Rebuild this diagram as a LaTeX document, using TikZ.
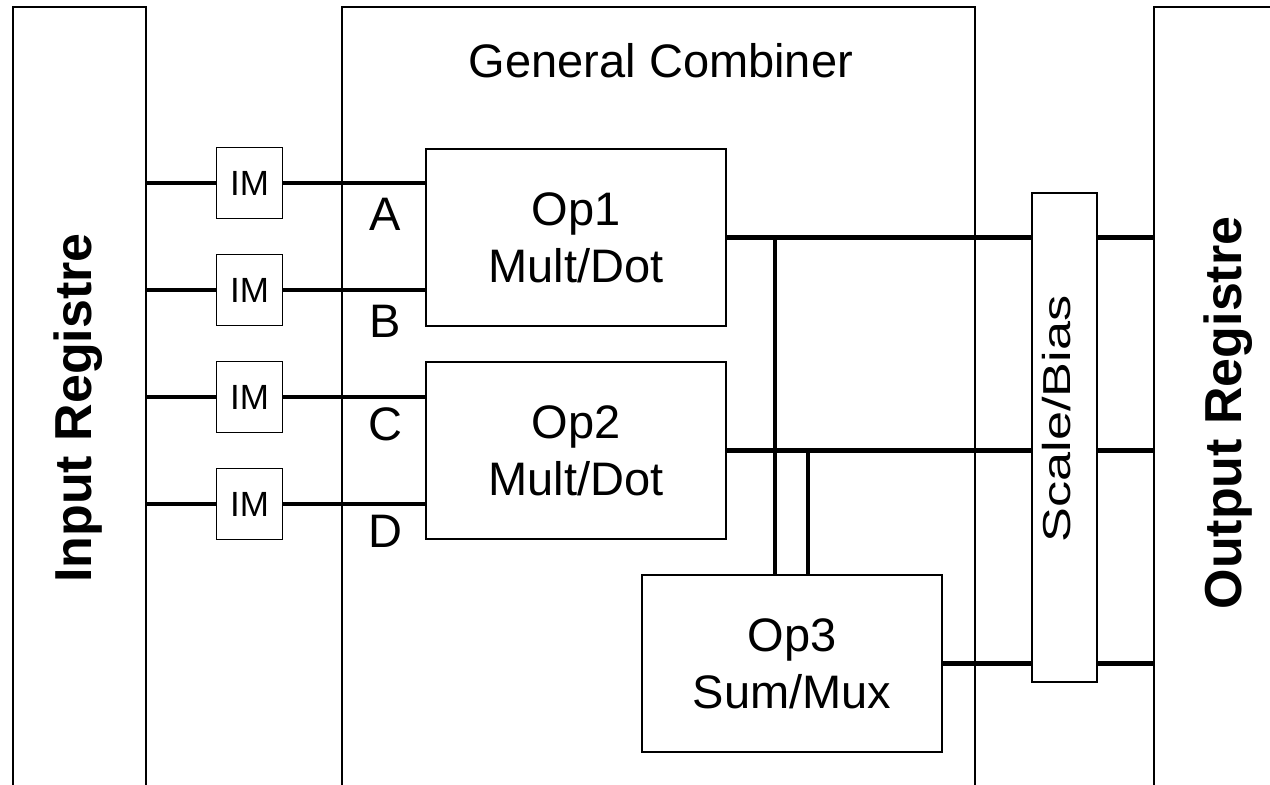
\documentclass[tikz,border=0pt]{standalone}
\usepackage{fontspec}
\setmainfont{Liberation Sans}
\usepackage{graphicx}
\begin{document}
\begin{tikzpicture}[x=1pt,y=-1pt,
  frame/.style={line width=1.2pt},
  box/.style={draw, line width=1.2pt, inner sep=0pt},
  wire/.style={line width=4.2pt},
  big/.style={font=\fontsize{47}{57}\selectfont, inner sep=0pt},
  imbox/.style={box, minimum width=66pt, minimum height=71pt, font=\fontsize{35}{40}\selectfont},
  opbox/.style={box, minimum width=300pt, minimum height=177pt, align=center, font=\fontsize{47}{57}\selectfont},
  reg/.style={font=\fontsize{52}{60}\selectfont\bfseries, inner sep=0pt, rotate=90}]
\clip (0,0) rectangle (1270,785);
% frames
\coordinate (irL) at (13,0);
\coordinate (irR) at (146,0);
\coordinate (gcL) at (342,0);
\coordinate (gcR) at (975,0);
\coordinate (orL) at (1154,0);
\draw[frame] (13,800) -- (13,7) -- (146,7) -- (146,800);
\draw[frame] (342,800) -- (342,7) -- (975,7) -- (975,800);
\draw[frame] (1154,800) -- (1154,7) -- (1290,7);
% labels of frames
\node[reg] (irlab) at (78,408) {Input Registre};
\node[reg] (orlab) at (1228,413) {Output Registre};
\node[big, anchor=base] (gclab) at (661,77) {General Combiner};
% IM boxes
\node[imbox] (im1) at (249.5,183) {IM};
\node[imbox] (im2) at (249.5,290) {IM};
\node[imbox] (im3) at (249.5,397) {IM};
\node[imbox] (im4) at (249.5,504) {IM};
% operators
\node[opbox] (op1) at (576,237.5) {Op1\\Mult/Dot};
\node[opbox] (op2) at (576,450.5) {Op2\\Mult/Dot};
\node[opbox] (op3) at (792,663.5) {Op3\\Sum/Mux};
% scale/bias
\node[box, minimum width=65pt, minimum height=489pt] (sb) at (1064.5,437.5) {};
\node[inner sep=0pt, rotate=90, font=\fontsize{39}{45}\selectfont] (sblab) at (1057,419) {\scalebox{1.34}[1]{Scale/Bias}};
% input letters
\node[big, anchor=base] (la) at (385,230) {A};
\node[big, anchor=base] (lb) at (385,337) {B};
\node[big, anchor=base] (lc) at (385,440) {C};
\node[big, anchor=base] (ld) at (385,547) {D};
% wires register -> IM -> ops
\draw[wire] (irR |- im1.west) -- (im1.west);
\draw[wire] (irR |- im2.west) -- (im2.west);
\draw[wire] (irR |- im3.west) -- (im3.west);
\draw[wire] (irR |- im4.west) -- (im4.west);
\draw[wire] (im1.east) -- (op1.west |- im1.east);
\draw[wire] (im2.east) -- (op1.west |- im2.east);
\draw[wire] (im3.east) -- (op2.west |- im3.east);
\draw[wire] (im4.east) -- (op2.west |- im4.east);
% outputs
\coordinate (v1) at (775,0);
\coordinate (v2) at (808,0);
\draw[wire] (op1.east) -- (sb.west |- op1.east);
\draw[wire] (op2.east) -- (sb.west |- op2.east);
\draw[wire] (op3.east) -- (sb.west |- op3.east);
\draw[wire] (v1 |- op1.east) -- (v1 |- op3.north);
\draw[wire] (v2 |- op2.east) -- (v2 |- op3.north);
\draw[wire] (sb.east |- op1.east) -- (orL |- op1.east);
\draw[wire] (sb.east |- op2.east) -- (orL |- op2.east);
\draw[wire] (sb.east |- op3.east) -- (orL |- op3.east);
\end{tikzpicture}
\end{document}
